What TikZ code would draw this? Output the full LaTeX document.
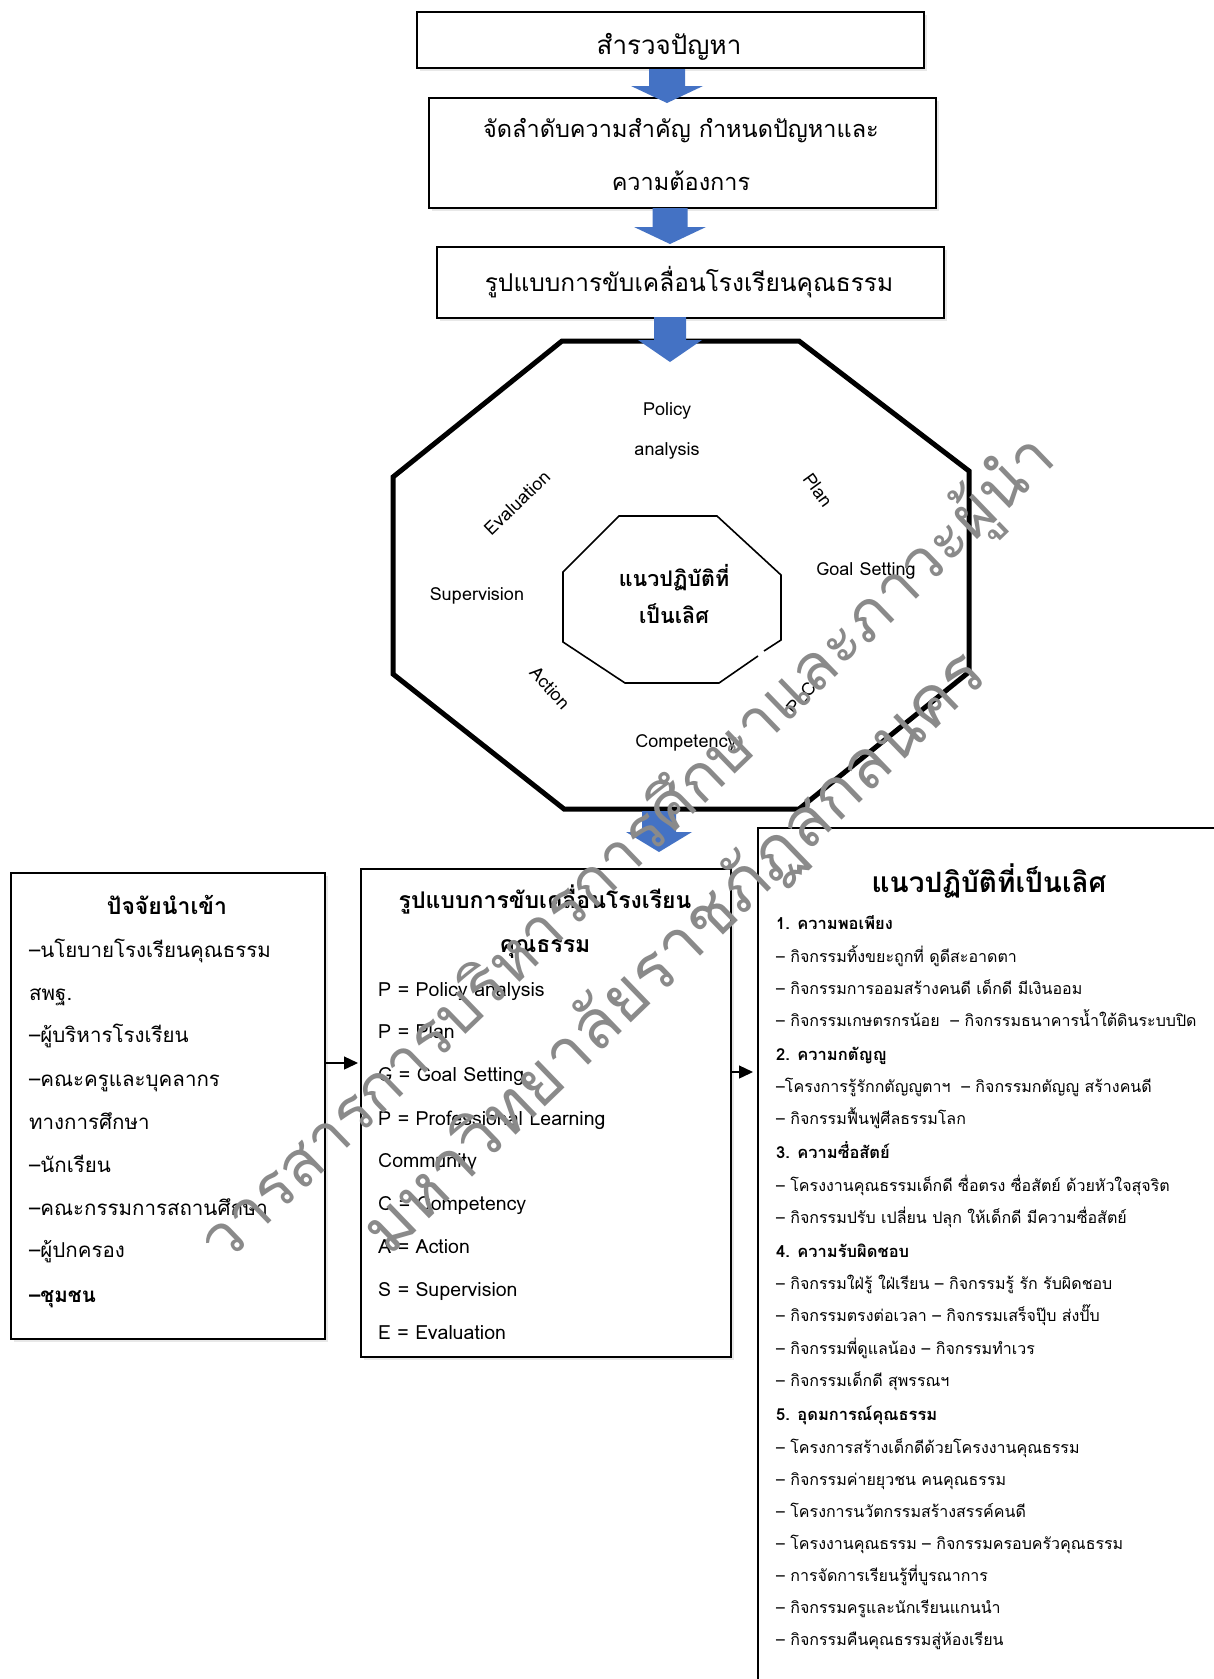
\documentclass[tikz,border=0pt]{standalone}
\usepackage{fontspec}
\setmainfont[Script=Thai]{Loma}
\usetikzlibrary{shadows,arrows.meta,calc}
\definecolor{arrowblue}{HTML}{4472C4}
\definecolor{wmgray}{HTML}{8A8A8A}
\newcommand{\fs}[1]{\fontsize{#1}{#1}\selectfont}
\newcommand{\blockdown}[6]{%
  \fill[arrowblue] (#1-#2,#4) -- (#1+#2,#4) -- (#1+#2,#5) -- (#1+#3,#5) -- (#1,#6) -- (#1-#3,#5) -- (#1-#2,#5) -- cycle;}
\begin{document}
\begin{tikzpicture}[x=1pt,y=-1pt,
  boxnode/.style={draw=black, line width=2pt, fill=white, inner sep=0pt, anchor=north west,
     drop shadow={shadow xshift=3pt, shadow yshift=-3pt, opacity=0.18}},
  ttext/.style={inner sep=0pt, font=\fs{26}},
  octlabel/.style={inner sep=0pt, font=\fs{18}},
  ltext/.style={inner sep=0pt, anchor=base west, font=\fs{20.5}},
  mtext/.style={inner sep=0pt, anchor=base west, font=\fs{19.5}},
  rtext/.style={inner sep=0pt, anchor=base west, font=\fs{16}},
  rhead/.style={inner sep=0pt, anchor=base west, font=\fs{16.5}\bfseries},
  linkarrow/.style={line width=1.4pt, -{Triangle[length=14pt,width=13pt]}},
  wm/.style={text=wmgray, inner sep=0pt, rotate=44},
]
\useasboundingbox (0,0) rectangle (1214,1679);
\fill[white] (0,0) rectangle (1214,1679);

% top flow boxes
\node[boxnode, minimum width=507pt, minimum height=56pt] (b1) at (416,11) {};
\node[ttext] (t1) at (669,47) {สำรวจปัญหา};
\node[boxnode, minimum width=507pt, minimum height=110pt] (b2) at (428,97) {};
\node[ttext, font=\fs{23.5}] (t2a) at (681,131) {จัดลำดับความสำคัญ กำหนดปัญหาและ};
\node[ttext, font=\fs{23.5}] (t2b) at (681,181) {ความต้องการ};
\node[boxnode, minimum width=507pt, minimum height=71pt] (b3) at (436,246) {};
\node[ttext, font=\fs{24.5}] (t3) at (689,282) {รูปแบบการขับเคลื่อนโรงเรียนคุณธรรม};

% octagons
\draw[line width=5pt, line join=miter] (562,341) -- (799,341) -- (969,471) -- (969,672) -- (799,809) -- (564,809) -- (393,674) -- (393,477) -- cycle;
\draw[line width=1.6pt, line join=miter] (764,651) -- (781,640) -- (781,575) -- (717,516) -- (619,516) -- (563,572) -- (563,642) -- (625,683) -- (719,683) -- (758,656);

% block arrows
\blockdown{667}{18}{36}{69}{86}{103}
\blockdown{670}{17.5}{36}{208}{227}{244}
\blockdown{670}{16}{32}{317}{340}{362}
\blockdown{659}{17}{33}{811}{832}{852}

% octagon labels
\node[octlabel] (pa1) at (667,411) {Policy};
\node[octlabel] (pa2) at (667,451) {analysis};
\node[octlabel, rotate=44] (ev) at (517,503) {Evaluation};
\node[octlabel, rotate=-54] (pl) at (818,490) {Plan};
\node[octlabel] (gs) at (866,571) {Goal Setting};
\node[octlabel] (sv) at (477,596) {Supervision};
\node[octlabel, rotate=-48] (ac) at (550,688) {Action};
\node[octlabel, rotate=50] (plc) at (801,698) {PLC};
\node[octlabel] (cp) at (686,743) {Competency};
\node[inner sep=0pt, font=\fs{21.5}\bfseries] (in1) at (674,578) {แนวปฏิบัติที่};
\node[inner sep=0pt, font=\fs{21.5}\bfseries] (in2) at (674,614) {เป็นเลิศ};

% lower boxes
\node[boxnode, minimum width=314pt, minimum height=466pt] (lbox) at (10,872) {};
\node[boxnode, minimum width=370pt, minimum height=488pt] (mbox) at (360,868) {};
\node[boxnode, minimum width=500pt, minimum height=900pt] (rbox) at (757,827) {};

% link arrows
\coordinate (ya) at (0,1063);
\coordinate (yb) at (0,1072);
\draw[linkarrow] (ya -| lbox.east) -- ($(ya -| mbox.west)+(-2,0)$);
\draw[linkarrow] (yb -| mbox.east) -- ($(yb -| rbox.west)+(-4,0)$);

% left box text
\node[inner sep=0pt, font=\fs{23}\bfseries] (lt) at (167,905) {ปัจจัยนำเข้า};
\node[ltext] (l1) at (29,957) {–นโยบายโรงเรียนคุณธรรม};
\node[ltext] (l2) at (29,1000) {สพฐ.};
\node[ltext] (l3) at (29,1042) {–ผู้บริหารโรงเรียน};
\node[ltext] (l4) at (29,1086) {–คณะครูและบุคลากร};
\node[ltext] (l5) at (29,1129) {ทางการศึกษา};
\node[ltext] (l6) at (29,1172) {–นักเรียน};
\node[ltext] (l7) at (29,1215) {–คณะกรรมการสถานศึกษา};
\node[ltext] (l8) at (29,1257) {–ผู้ปกครอง};
\node[ltext, font=\fs{20.5}\bfseries] (l9) at (29,1302) {–ชุมชน};

% middle box text
\node[inner sep=0pt, font=\fs{23}\bfseries] (mt1) at (545,899) {รูปแบบการขับเคลื่อนโรงเรียน};
\node[inner sep=0pt, font=\fs{23}\bfseries] (mt2) at (545,949) {คุณธรรม};
\node[mtext] (m1) at (378,996) {P = Policy analysis};
\node[mtext] (m2) at (378,1038) {P = Plan};
\node[mtext] (m3) at (378,1081) {G = Goal Setting};
\node[mtext] (m4) at (378,1125) {P = Professional Learning};
\node[mtext] (m5) at (378,1167) {Community};
\node[mtext] (m6) at (378,1210) {C = Competency};
\node[mtext] (m7) at (378,1253) {A = Action};
\node[mtext] (m8) at (378,1296) {S = Supervision};
\node[mtext] (m9) at (378,1339) {E = Evaluation};

% right box text
\node[inner sep=0pt, font=\fs{28}\bfseries] (rt) at (989,881) {แนวปฏิบัติที่เป็นเลิศ};
\node[rhead] (r1) at (776,929) {1. ความพอเพียง};
\node[rtext] (r2) at (776,962) {– กิจกรรมทิ้งขยะถูกที่ ดูดีสะอาดตา};
\node[rtext] (r3) at (776,994) {– กิจกรรมการออมสร้างคนดี เด็กดี มีเงินออม};
\node[rtext] (r4) at (776,1026) {– กิจกรรมเกษตรกรน้อย\ \ – กิจกรรมธนาคารน้ำใต้ดินระบบปิด};
\node[rhead] (r5) at (776,1060) {2. ความกตัญญู};
\node[rtext] (r6) at (776,1092) {–โครงการรู้รักกตัญญูตาฯ\ \ – กิจกรรมกตัญญู สร้างคนดี};
\node[rtext] (r7) at (776,1124) {– กิจกรรมฟื้นฟูศีลธรรมโลก};
\node[rhead] (r8) at (776,1158) {3. ความซื่อสัตย์};
\node[rtext] (r9) at (776,1191) {– โครงงานคุณธรรมเด็กดี ซื่อตรง ซื่อสัตย์ ด้วยหัวใจสุจริต};
\node[rtext] (r10) at (776,1223) {– กิจกรรมปรับ เปลี่ยน ปลุก ให้เด็กดี มีความซื่อสัตย์};
\node[rhead] (r11) at (776,1257) {4. ความรับผิดชอบ};
\node[rtext] (r12) at (776,1289) {– กิจกรรมใฝ่รู้ ใฝ่เรียน – กิจกรรมรู้ รัก รับผิดชอบ};
\node[rtext] (r13) at (776,1321) {– กิจกรรมตรงต่อเวลา – กิจกรรมเสร็จปุ๊บ ส่งปั๊บ};
\node[rtext] (r14) at (776,1354) {– กิจกรรมพี่ดูแลน้อง – กิจกรรมทำเวร};
\node[rtext] (r15) at (776,1386) {– กิจกรรมเด็กดี สุพรรณฯ};
\node[rhead] (r16) at (776,1420) {5. อุดมการณ์คุณธรรม};
\node[rtext] (r17) at (776,1453) {– โครงการสร้างเด็กดีด้วยโครงงานคุณธรรม};
\node[rtext] (r18) at (776,1485) {– กิจกรรมค่ายยุวชน คนคุณธรรม};
\node[rtext] (r19) at (776,1517) {– โครงการนวัตกรรมสร้างสรรค์คนดี};
\node[rtext] (r20) at (776,1549) {– โครงงานคุณธรรม – กิจกรรมครอบครัวคุณธรรม};
\node[rtext] (r21) at (776,1581) {– การจัดการเรียนรู้ที่บูรณาการ};
\node[rtext] (r22) at (776,1613) {– กิจกรรมครูและนักเรียนแกนนำ};
\node[rtext] (r23) at (776,1645) {– กิจกรรมคืนคุณธรรมสู่ห้องเรียน};

% watermark
\node[wm, font=\fs{64}] (w1) at (629,851) {วารสารการบริหารการศึกษาและภาวะผู้นำ};
\node[wm, font=\fs{68}] (w2) at (675,953) {มหาวิทยาลัยราชภัฏสกลนคร};
\end{tikzpicture}
\end{document}
